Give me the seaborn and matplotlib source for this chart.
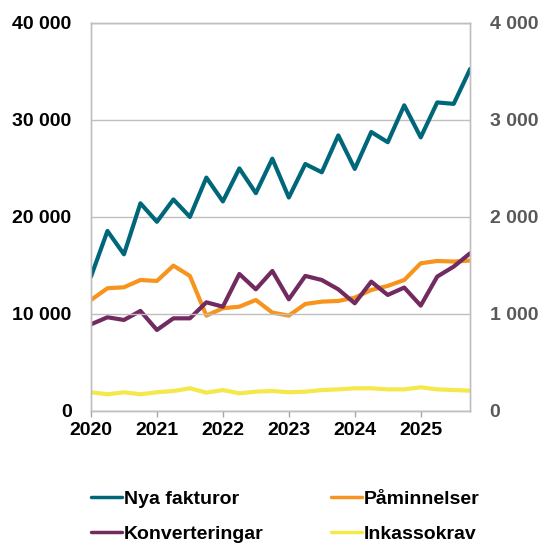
import numpy as np
import pandas as pd
import matplotlib
matplotlib.use("Agg")
import matplotlib.pyplot as plt
import seaborn as sns

# kvartal 2020K1 - 2025K4
kvartal = np.arange(2020, 2026, 0.25)

nya_fakturor = [13850, 18550, 16150, 21400, 19500, 21800, 20000, 24050,
                21600, 25000, 22450, 26000, 22000, 25450, 24600, 28400,
                24950, 28750, 27700, 31500, 28200, 31800, 31650, 35250]
# högra axeln
paminnelser = [1144, 1265, 1275, 1350, 1340, 1498, 1392, 983,
               1059, 1075, 1144, 1014, 983, 1103, 1127, 1134,
               1168, 1247, 1289, 1350, 1522, 1546, 1540, 1550]
konverteringar = [893, 966, 938, 1031, 835, 955, 955, 1120,
                  1075, 1412, 1254, 1443, 1151, 1392, 1350, 1254,
                  1110, 1333, 1196, 1272, 1086, 1385, 1488, 1626]
inkassokrav = [193, 172, 193, 172, 193, 206, 234, 189,
               216, 182, 199, 206, 193, 199, 216, 223,
               234, 234, 223, 223, 244, 223, 216, 209]

ar = [2020, 2021, 2022, 2023, 2024, 2025]
vanster_ticks = [0, 10000, 20000, 30000, 40000]
hoger_ticks = [0, 1000, 2000, 3000, 4000]

c_nya = "#00677A"
c_pam = "#F7941D"
c_konv = "#722B60"
c_ink = "#F4E84A"

sns.set_style("white")
plt.rcParams["font.family"] = ["Liberation Sans", "DejaVu Sans"]
plt.rcParams["font.weight"] = "bold"
plt.rcParams["text.color"] = "black"
plt.rcParams["xtick.color"] = "black"
plt.rcParams["ytick.color"] = "black"

df = pd.DataFrame({"kvartal": kvartal, "Nya fakturor": nya_fakturor,
                   "Påminnelser": paminnelser, "Konverteringar": konverteringar,
                   "Inkassokrav": inkassokrav})

fig = plt.figure(figsize=(5.48, 5.44), dpi=100)
ax = fig.add_axes([0.166, 0.2445, 0.692, 0.7135])
ax2 = ax.twinx()

lw = 3.0
sns.lineplot(data=df, x="kvartal", y="Nya fakturor", ax=ax, color=c_nya, lw=lw, label="Nya fakturor", legend=False)
sns.lineplot(data=df, x="kvartal", y="Inkassokrav", ax=ax2, color=c_ink, lw=lw, label="Inkassokrav", legend=False)
sns.lineplot(data=df, x="kvartal", y="Påminnelser", ax=ax2, color=c_pam, lw=lw, label="Påminnelser", legend=False)
sns.lineplot(data=df, x="kvartal", y="Konverteringar", ax=ax2, color=c_konv, lw=lw, label="Konverteringar", legend=False)
ax.set_zorder(ax2.get_zorder() + 1)
ax.patch.set_visible(False)

ax.set_xlim(2020, 2025.75)
ax.set_ylim(0, 40000)
ax2.set_ylim(0, 4000)
ax.set_xticks(ar)
ax.set_xticklabels([str(a) for a in ar], fontsize=14, fontweight="bold", color="black")
ax.set_yticks(vanster_ticks)
ax.set_yticklabels([f"{v:,}".replace(",", " ") for v in vanster_ticks], fontsize=14, fontweight="bold", color="black")
ax2.set_yticks(hoger_ticks)
ax2.set_yticklabels([f"{v:,}".replace(",", " ") for v in hoger_ticks], fontsize=14, fontweight="bold", color="#595959")
ax.set_xlabel("")
ax.set_ylabel("")
ax2.set_ylabel("")

ax.grid(axis="y", color="#BFBFBF", lw=1)
ax.tick_params(axis="y", length=0, pad=14)
ax2.tick_params(axis="y", length=0, pad=14)
ax.tick_params(axis="x", length=4, color="#A6A6A6", width=1, pad=4, bottom=True)
for a in (ax, ax2):
    for s in a.spines.values():
        s.set_color("#BFBFBF")
        s.set_linewidth(1)

h = {l.get_label(): l for l in ax.get_lines() + ax2.get_lines()}
ordning = ["Nya fakturor", "Konverteringar", "Påminnelser", "Inkassokrav"]
leg = fig.legend([h[n] for n in ordning], ordning, ncol=2, loc="upper left",
                 bbox_to_anchor=(0.135, 0.131), frameon=False, handlelength=1.55,
                 handletextpad=0.1, columnspacing=3.5, labelspacing=0.9,
                 prop={"size": 14, "weight": "bold"})
for t in leg.get_texts():
    t.set_color("black")
for l in leg.get_lines():
    l.set_linewidth(2.5)

fig.savefig("out.png", dpi=100)
